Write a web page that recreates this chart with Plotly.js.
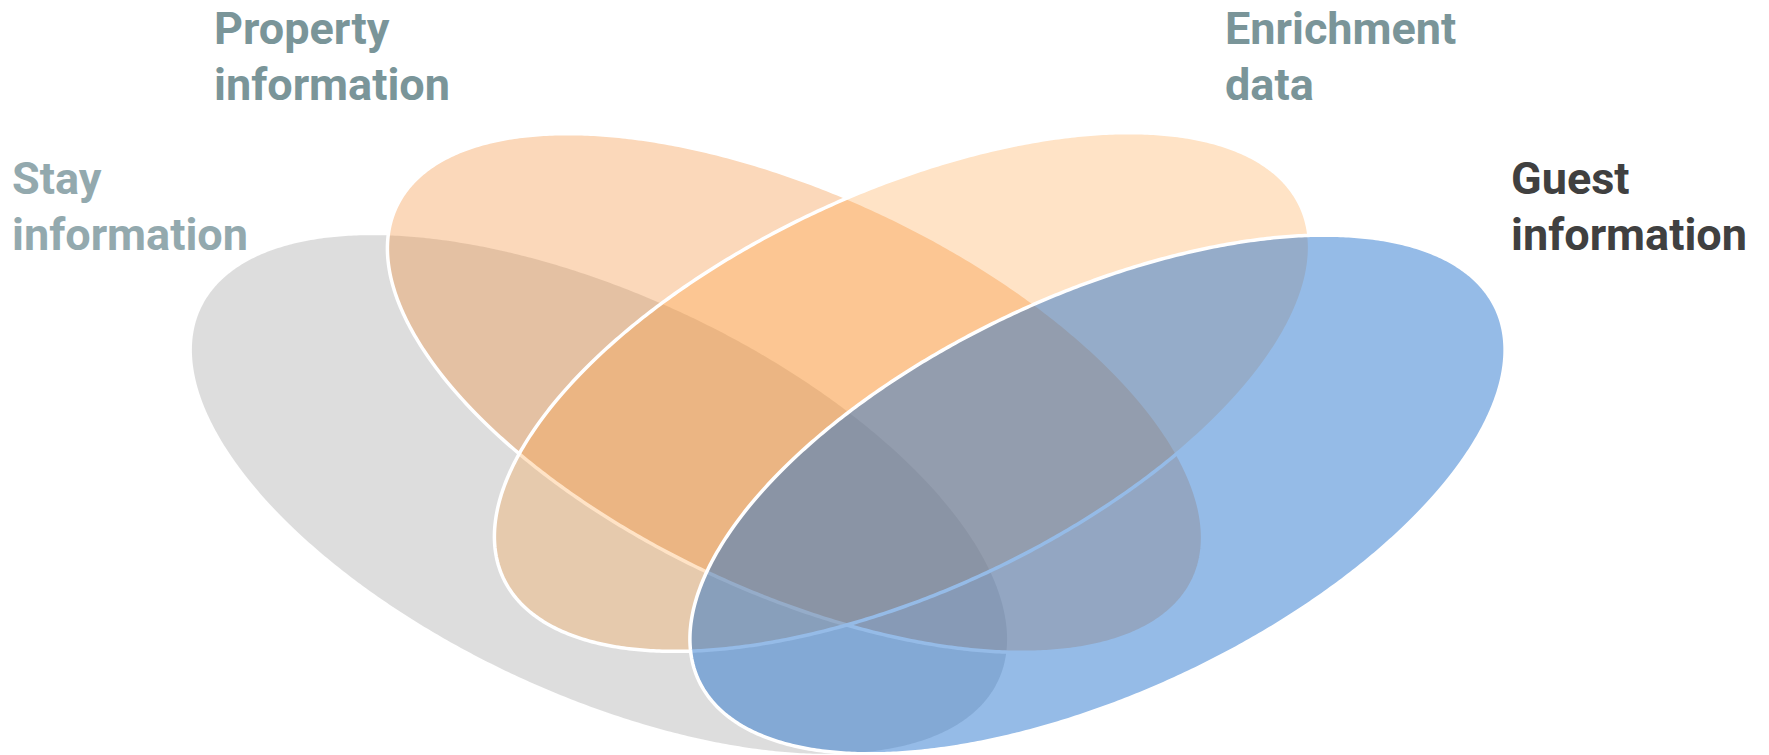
<!DOCTYPE html>
<html>
<head>
<meta charset="utf-8">
<script src="https://cdn.plot.ly/plotly-3.0.1.min.js"></script>
<style>html,body{margin:0;padding:0;background:#fff;}#chart{width:1769px;height:755px;}</style>
</head>
<body>
<div id="chart"></div>
<script>
// ---- data ----
const setNames = ["Stay information", "Property information", "Enrichment data", "Guest information"];
const labelLines = [["Stay", "information"], ["Property", "information"], ["Enrichment", "data"], ["Guest", "information"]];
// ellipse geometry (pixel space of the drawing)
const centerX = [599.5, 795, 902, 1097.5];
const centerY = [494.5, 393, 392, 494.5];
const semiMajor = [440, 440, 440, 440];
const semiMinor = [199.5, 199.5, 199.5, 199.5];
const tiltDeg = [25, 25, -25, -25];

// ---- styles ----
const fills = ["rgba(165,165,165,0.38)", "rgba(243,141,53,0.34)", "rgba(255,150,45,0.27)", "rgba(30,110,205,0.47)"];
const outlineW = [0, 3.5, 3.5, 3.5];
const labelColors = ["#93A9AE", "#7A9599", "#7A9599", "#404040"];
const labelX = [11, 213, 1224, 1510];
const labelBaseline = [[194, 250], [44, 100], [44, 100], [194, 250]];

function ellipse(i) {
  const xs = [], ys = [];
  const th = tiltDeg[i] * Math.PI / 180;
  const n = 720;
  for (let k = 0; k <= n; k++) {
    const t = 2 * Math.PI * k / n;
    const ca = semiMajor[i] * Math.cos(t), sb = semiMinor[i] * Math.sin(t);
    xs.push(centerX[i] + ca * Math.cos(th) - sb * Math.sin(th));
    ys.push(centerY[i] + ca * Math.sin(th) + sb * Math.cos(th));
  }
  return {xs, ys};
}

const traces = setNames.map((name, i) => {
  const e = ellipse(i);
  return {
    type: "scatter", mode: "lines", name: name,
    x: e.xs, y: e.ys, fill: "toself", fillcolor: fills[i],
    line: {color: outlineW[i] ? "#ffffff" : "rgba(0,0,0,0)", width: outlineW[i] || 0.1, simplify: false},
    hoverinfo: "name", showlegend: false
  };
});

const FS = 45;
const annotations = [];
labelLines.forEach((lines, i) => {
  lines.forEach((txt, j) => {
    annotations.push({
      text: txt, x: labelX[i], y: labelBaseline[i][j] - 43, xref: "x", yref: "y",
      xanchor: "left", yanchor: "top", showarrow: false, align: "left",
      font: {family: "Roboto, 'Open Sans', sans-serif", size: FS, color: labelColors[i], weight: 700},
      borderpad: 0
    });
  });
});

const layout = {
  width: 1769, height: 755,
  margin: {l: 0, r: 0, t: 0, b: 0},
  paper_bgcolor: "#ffffff", plot_bgcolor: "#ffffff",
  xaxis: {range: [0, 1769], visible: false, fixedrange: true},
  yaxis: {range: [755, 0], visible: false, fixedrange: true},
  annotations: annotations,
  showlegend: false
};

Plotly.newPlot("chart", traces, layout, {displayModeBar: false, staticPlot: true});
</script>
</body>
</html>
